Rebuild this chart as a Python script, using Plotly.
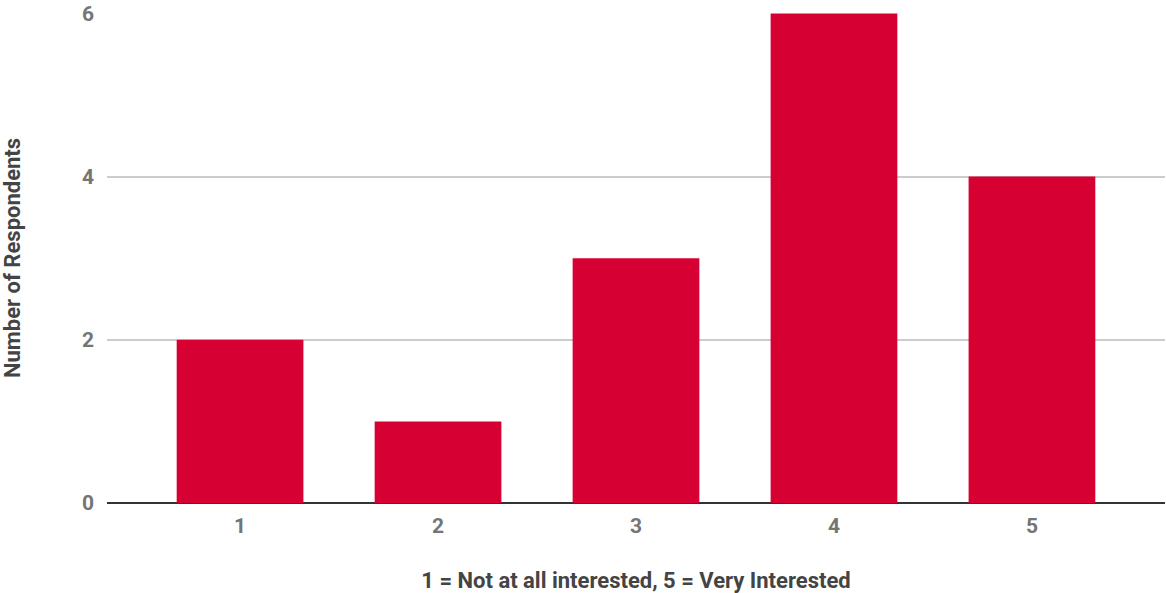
import plotly.graph_objects as go

categories = [1, 2, 3, 4, 5]
respondents = [2, 1, 3, 6, 4]
y_ticks = [0, 2, 4, 6]

fig = go.Figure(go.Bar(
    x=categories, y=respondents,
    marker=dict(color="#D70032", line=dict(width=0)),
    width=0.64,
))

fig.update_layout(
    width=1166, height=593,
    margin=dict(l=107, r=1, t=13, b=90, autoexpand=False),
    plot_bgcolor="white", paper_bgcolor="white",
    font=dict(family="Roboto", color="#757575"),
    showlegend=False,
    xaxis=dict(
        range=[0.328, 5.672], tickvals=categories, ticktext=[str(c) for c in categories],
        showgrid=False, zeroline=False, showline=False, ticks="",
        automargin=False, ticklabelstandoff=8,
        tickfont=dict(size=21, family="Roboto", weight="bold", color="#757575"),
        title=dict(text="1 = Not at all interested, 5 = Very Interested",
                   font=dict(size=22, family="Roboto", weight="bold", color="#444444"),
                   standoff=35),
    ),
    yaxis=dict(
        range=[0, 6.005], tickvals=y_ticks,
        showgrid=True, gridcolor="#CCCCCC", gridwidth=1.5,
        zeroline=True, zerolinecolor="#333333", zerolinewidth=1.5,
        ticks="", ticklabelstandoff=12, automargin=False,
        tickfont=dict(size=21, family="Roboto", weight="bold", color="#757575"),
        title=dict(text="Number of Respondents",
                   font=dict(size=22, family="Roboto", weight="bold", color="#444444"),
                   standoff=56),
    ),
)

fig.write_html("out.html", config={"displayModeBar": False},
               post_script="document.body.style.margin='0';")
